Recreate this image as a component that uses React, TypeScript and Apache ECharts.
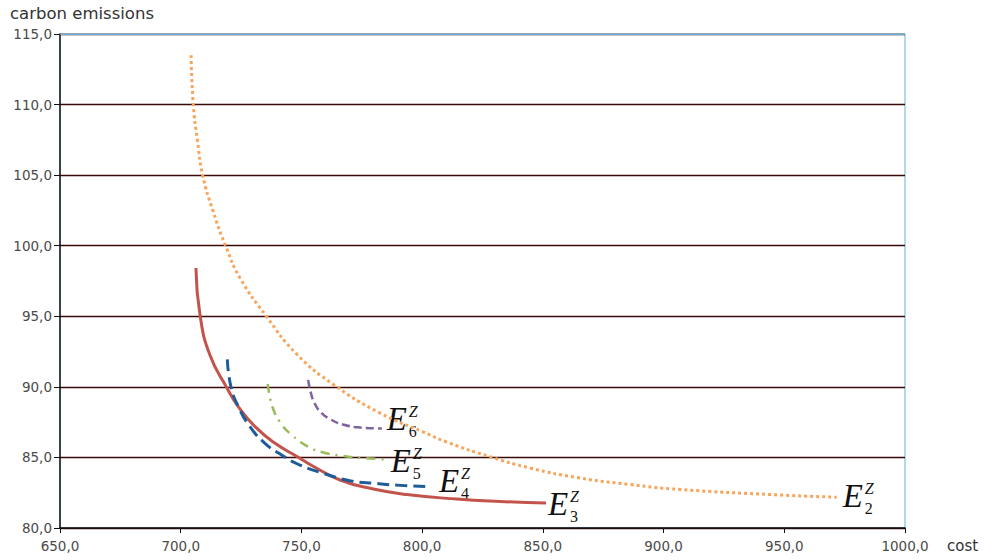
import React, { useEffect, useRef } from 'react';
import * as echarts from 'echarts';

// cost (x) vs carbon emissions (y), one list per curve
const E2: number[][] = [
  [704.3, 113.5], [705.2, 110.0], [706.9, 107.5], [709.1, 105.0], [713.5, 102.4],
  [718.8, 99.9], [724.6, 97.7], [735.6, 94.97], [748.0, 92.33], [763.2, 90.17],
  [782.5, 88.15], [800.5, 86.8], [810.2, 86.09], [828.1, 85.05], [844.7, 84.25],
  [864.0, 83.58], [886.1, 83.08], [906.8, 82.73], [948.2, 82.34], [971.7, 82.18],
];
const E3: number[][] = [
  [706.3, 98.42], [708.0, 95.09], [712.1, 92.25], [719.1, 89.94], [723.9, 88.59],
  [730.8, 87.18], [739.1, 86.0], [748.7, 85.01], [754.3, 84.43], [766.0, 83.4],
  [779.8, 82.76], [793.6, 82.37], [814.3, 82.05], [832.3, 81.88], [851.3, 81.77],
];
const E4: number[][] = [
  [719.3, 91.95], [720.8, 90.01], [723.9, 88.59], [728.7, 87.18], [734.9, 86.0],
  [741.8, 85.17], [749.4, 84.46], [759.1, 83.87], [770.1, 83.35], [781.2, 83.15],
  [790.8, 83.02], [803.3, 82.93],
];
const E5: number[][] = [
  [736.0, 90.2], [736.8, 89.42], [738.0, 88.57], [741.1, 87.51], [746.0, 86.59],
  [752.8, 85.76], [759.1, 85.35], [767.3, 85.1], [777.0, 84.94], [785.3, 84.87],
];
const E6: number[][] = [
  [752.8, 90.49], [753.8, 89.64], [755.4, 88.86], [757.9, 88.22], [761.8, 87.72],
  [767.2, 87.33], [774.3, 87.12], [783.3, 87.05],
];

const X_MIN = 650, X_MAX = 1000, X_STEP = 50;
const Y_MIN = 80, Y_MAX = 115, Y_STEP = 5;

const fmt = (v: number) => v.toFixed(1).replace('.', ',');

const curves = [
  { name: 'E2', data: E2, sub: '2', color: '#f8a55c', type: [3, 3] as any, width: 3, dx: 6, dy: 10 },
  { name: 'E3', data: E3, sub: '3', color: '#c2544c', type: 'solid' as any, width: 3, dx: 2, dy: 12 },
  { name: 'E4', data: E4, sub: '4', color: '#1f5c9a', type: [12, 6] as any, width: 3, dx: 9, dy: 5 },
  { name: 'E5', data: E5, sub: '5', color: '#9bbb59', type: [9, 6, 2, 6] as any, width: 2.5, dx: 4, dy: 13 },
  { name: 'E6', data: E6, sub: '6', color: '#8064a2', type: [8, 4] as any, width: 2.5, dx: 5, dy: 2 },
];

const BLUE = '#6aafd8';

export default function App() {
  const ref = useRef<HTMLDivElement>(null);
  useEffect(() => {
    if (!ref.current) return;
    const chart = echarts.init(ref.current, undefined, { renderer: 'svg' });
    const titles = [
      { type: 'text', left: 10, top: 5, style: { text: 'carbon emissions', fill: '#333', font: '16.5px "DejaVu Sans"' } },
      { type: 'text', left: 947, top: 538, style: { text: 'cost', fill: '#333', font: '15px "DejaVu Sans"' } },
    ];
    chart.setOption({
      animation: false,
      backgroundColor: '#ffffff',
      grid: { left: 60, right: 79, top: 34, bottom: 32, show: true, borderColor: BLUE, borderWidth: 1 },
      xAxis: [
        {
          type: 'value', min: X_MIN, max: X_MAX, interval: X_STEP, position: 'bottom',
          axisLine: { show: true, lineStyle: { color: '#111', width: 1.5 } },
          axisTick: { show: true, length: 5, lineStyle: { color: '#111' } },
          axisLabel: { formatter: fmt, color: '#4a4a4a', fontSize: 13.5, fontFamily: 'DejaVu Sans', margin: 11 },
          splitLine: { show: false },
        },
        {
          type: 'value', min: X_MIN, max: X_MAX, interval: X_STEP, position: 'top',
          axisLine: { show: true, lineStyle: { color: BLUE, width: 1.2 } },
          axisTick: { show: false }, axisLabel: { show: false }, splitLine: { show: false },
        },
      ],
      yAxis: {
        type: 'value', min: Y_MIN, max: Y_MAX, interval: Y_STEP,
        axisLine: { show: true, lineStyle: { color: '#111', width: 1.5 } },
        axisTick: { show: true, length: 6, lineStyle: { color: '#111' } },
        axisLabel: { formatter: fmt, color: '#4a4a4a', fontSize: 13.5, fontFamily: 'DejaVu Sans', margin: 8 },
        splitLine: { show: true, lineStyle: { color: '#3a0a08', width: 1.3 } },
      },
      series: curves.map((c) => ({
        name: c.name,
        type: 'line',
        data: c.data,
        smooth: 0.5,
        showSymbol: false,
        symbol: 'none',
        lineStyle: { color: c.color, width: c.width, type: c.type },
      })),
      graphic: titles,
    });

    const labelEls: any[] = [];
    curves.forEach((c) => {
      const last = c.data[c.data.length - 1];
      const p = chart.convertToPixel({ gridIndex: 0 }, last) as number[];
      const ex = p[0] + c.dx;
      const base = p[1] + c.dy;
      labelEls.push({
        type: 'text', x: ex, y: base - 11,
        style: { text: 'E', fill: '#111', font: 'italic 33px "Liberation Serif"', verticalAlign: 'middle', align: 'left' },
      });
      labelEls.push({
        type: 'text', x: ex + 22, y: base - 13 - 5.5,
        style: { text: 'Z', fill: '#111', font: 'italic 16px "Liberation Serif"', verticalAlign: 'middle', align: 'left' },
      });
      labelEls.push({
        type: 'text', x: ex + 22, y: base + 7 - 5.5,
        style: { text: c.sub, fill: '#111', font: '16px "Liberation Serif"', verticalAlign: 'middle', align: 'left' },
      });
    });
    chart.setOption({ graphic: [...titles, ...labelEls] }, { replaceMerge: ['graphic'] });

    return () => chart.dispose();
  }, []);
  return <div ref={ref} style={{ position: 'fixed', left: 0, top: 0, width: 984, height: 560 }} />;
}
